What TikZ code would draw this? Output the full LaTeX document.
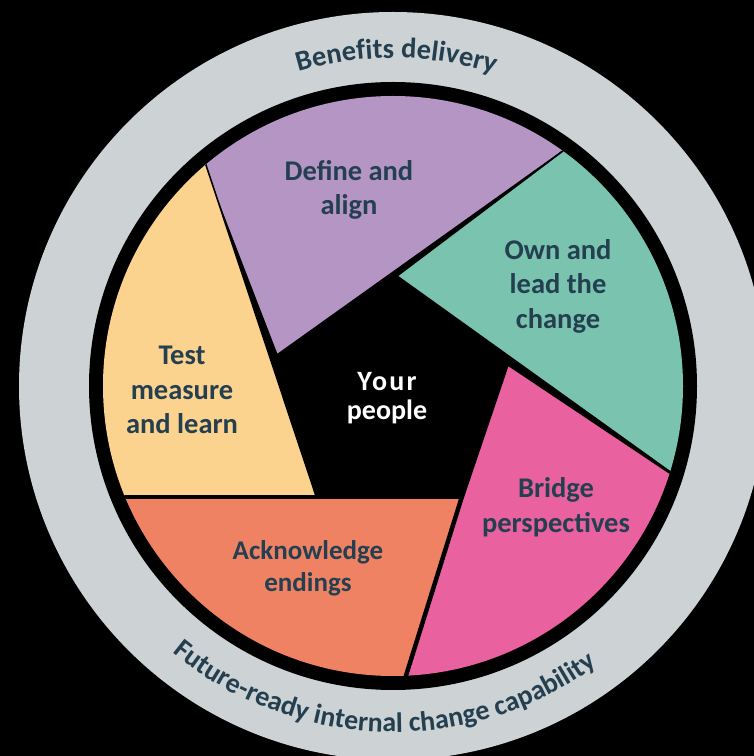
\documentclass[tikz,border=0pt]{standalone}
\usepackage{fontspec}
\setmainfont{Carlito}
\usetikzlibrary{decorations.text}
\definecolor{ringgrey}{HTML}{CDD2D4}
\definecolor{inkblue}{HTML}{243F50}
\definecolor{segpurple}{HTML}{B495C4}
\definecolor{segteal}{HTML}{79C3AF}
\definecolor{segpink}{HTML}{EA619F}
\definecolor{segorange}{HTML}{F08264}
\definecolor{segyellow}{HTML}{FBD28E}
\tikzset{
  seg/.style={draw=black,line width=1.6pt,line join=miter},
  lab/.style={font=\fontsize{28.5}{34.5}\selectfont\bfseries,text=inkblue,align=center,inner sep=0pt},
  centrelab/.style={font=\fontsize{28}{29}\selectfont\bfseries,text=white,align=center,inner sep=0pt}
}
\begin{document}
\begin{tikzpicture}[x=1pt,y=1pt]
\useasboundingbox (0,0) rectangle (754,756);
\fill[black] (0,0) rectangle (754,756);
\begin{scope}
\clip (0,0) rectangle (754,756);
\coordinate (c) at (393,370);
\fill[ringgrey] (c) circle (374);
\fill[black] (c) circle (304);
\begin{scope}
\clip (c) circle (290);
% purple
\fill[segpurple,seg] (277,401) -- (189,629) -- (393,720) -- (591,625) -- cycle;
% teal
\fill[segteal,seg] (397,480) -- (600,633) -- (760,500) -- (722,247) -- cycle;
% pink
\fill[segpink,seg] (508,391) -- (722,248) -- (600,30) -- (398,50) -- (463,258) -- cycle;
% orange
\fill[segorange,seg] (460,258) -- (395,50) -- (100,100) -- (90,258) -- cycle;
% yellow
\fill[segyellow,seg] (316,260) -- (195,624) -- (90,500) -- (90,260) -- cycle;
\end{scope}
\end{scope}
\node[lab] (define) at (349,566) {Define and\\align};
\node[lab] (own) at (558,470) {Own and\\lead the\\change};
\node[lab] (bridge) at (556,249) {Bridge\\perspectives};
\node[lab,font=\fontsize{27}{32}\selectfont\bfseries] (ack) at (308,188) {Acknowledge\\endings};
\node[lab] (test) at (182,366) {Test\\measure\\and learn};
\node[centrelab] (people) at (387,358) {{\addfontfeature{LetterSpace=8}Your}\\people};
\path[postaction={decorate,decoration={text along path,text align=center,
  text={|\fontsize{28.5}{28.5}\selectfont\bfseries\color{inkblue}|Benefits delivery}}}]
  (c) ++(149.4:328) arc[start angle=149.4,end angle=29.4,radius=328];
\path[postaction={decorate,decoration={text along path,text align=center,
  text={|\fontsize{28}{28}\selectfont\bfseries\color{inkblue}|Future-ready internal change capability}}}]
  (c) ++(208.3:346) arc[start angle=208.3,end angle=328.3,radius=346];
\end{tikzpicture}
\end{document}
